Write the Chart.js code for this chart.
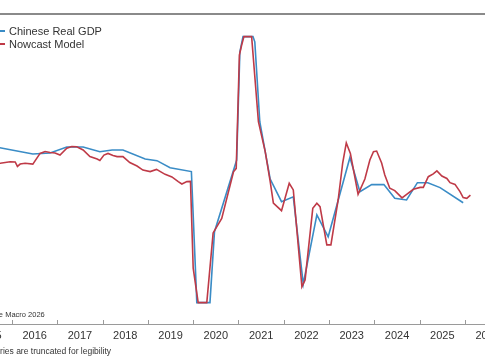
<!DOCTYPE html>
<html>
<head>
<meta charset="utf-8">
<script src="https://cdn.jsdelivr.net/npm/chart.js@4/dist/chart.umd.min.js"></script>
<style>
  html, body { margin: 0; padding: 0; background: #fff; }
  #frame { position: relative; width: 485px; height: 360px; overflow: hidden;
           font-family: "Liberation Sans", Arial, sans-serif; color: #333; }
  #chart { position: absolute; left: -40px; top: 0; }
  .key { position: absolute; left: 9px; font-size: 11px; line-height: 12px; white-space: nowrap; }
  .swatch { position: absolute; left: 0; width: 5px; height: 2px; }
  .note { position: absolute; white-space: nowrap; line-height: 10px; }
</style>
</head>
<body>
<div id="frame">
  <canvas id="chart" width="565" height="360"></canvas>
  <div class="swatch" style="top:30px;background:#3a8cc6"></div>
  <div class="key" style="top:25px">Chinese Real GDP</div>
  <div class="swatch" style="top:43px;background:#bf3a47"></div>
  <div class="key" style="top:38px">Nowcast Model</div>
  <div class="note" style="left:-25px;top:310px;font-size:7.5px">© Alpine Macro 2026</div>
  <div class="note" style="left:-33px;top:346px;font-size:8.5px">Note: Series are truncated for legibility</div>
</div>
<script>
// x values are decimal years, y values are % y/y (clamped at the chart's limits)
const gdpDates = [2015.47, 2016.46, 2016.84, 2017.21, 2017.57, 2017.94, 2018.21, 2018.45,
  2018.94, 2019.20, 2019.49, 2019.96, 2020.08, 2020.37, 2020.47, 2020.96, 2021.03, 2021.10,
  2021.32, 2021.36, 2021.47, 2021.70, 2021.95, 2022.21, 2022.43, 2022.73, 2022.98, 2023.46,
  2023.68, 2023.94, 2024.21, 2024.45, 2024.71, 2024.95, 2025.18, 2025.45, 2025.96];
const gdpValues = [6.85, 6.45, 6.50, 6.78, 6.78, 6.56, 6.64, 6.64,
  6.22, 6.14, 5.81, 5.63, -0.50, -0.50, 2.82, 6.17, 11.22, 11.94,
  11.94, 11.70, 7.96, 5.28, 4.22, 4.45, 0.37, 3.60, 2.58, 6.29,
  4.69, 5.02, 5.02, 4.38, 4.30, 5.11, 5.11, 4.88, 4.17];

const nowcastDates = [2015.47, 2015.74, 2015.96, 2016.07, 2016.12, 2016.18, 2016.29, 2016.46,
  2016.62, 2016.73, 2016.84, 2016.95, 2017.06, 2017.21, 2017.32, 2017.43, 2017.57, 2017.72,
  2017.88, 2017.94, 2018.03, 2018.12, 2018.23, 2018.32, 2018.45, 2018.60, 2018.76, 2018.89,
  2019.05, 2019.19, 2019.38, 2019.53, 2019.67, 2019.75, 2019.86, 2019.94, 2020.00, 2020.11,
  2020.30, 2020.44, 2020.63, 2020.89, 2020.95, 2021.02, 2021.07, 2021.12, 2021.29, 2021.44,
  2021.59, 2021.70, 2021.77, 2021.95, 2022.12, 2022.21, 2022.40, 2022.47, 2022.64, 2022.73,
  2022.80, 2022.95, 2023.04, 2023.20, 2023.30, 2023.38, 2023.47, 2023.64, 2023.79, 2023.90,
  2023.98, 2024.05, 2024.16, 2024.23, 2024.34, 2024.45, 2024.61, 2024.72, 2024.86, 2025.01,
  2025.08, 2025.19, 2025.30, 2025.38, 2025.49, 2025.60, 2025.67, 2025.78, 2025.89, 2025.96,
  2026.04, 2026.12];
const nowcastValues = [5.98, 6.02, 6.09, 6.08, 5.87, 5.98, 6.02, 5.98,
  6.48, 6.57, 6.52, 6.50, 6.40, 6.72, 6.80, 6.79, 6.64, 6.33,
  6.22, 6.15, 6.40, 6.48, 6.38, 6.33, 6.33, 6.05, 5.89, 5.70,
  5.63, 5.73, 5.50, 5.38, 5.16, 5.05, 5.16, 5.17, 1.11, -0.50,
  -0.50, 2.76, 3.44, 5.62, 5.78, 11.08, 11.55, 11.94, 11.94, 7.96,
  6.56, 5.16, 4.15, 3.80, 5.08, 4.77, 0.24, 0.56, 3.91, 4.15,
  3.99, 2.20, 2.20, 4.30, 6.02, 6.97, 6.48, 4.57, 5.28, 6.17,
  6.56, 6.59, 6.03, 5.47, 4.85, 4.74, 4.40, 4.58, 4.80, 4.89,
  4.89, 5.39, 5.52, 5.66, 5.42, 5.31, 5.11, 5.03, 4.69, 4.41,
  4.38, 4.53];

const yearLabels = ['2015', '2016', '2017', '2018', '2019', '2020', '2021',
  '2022', '2023', '2024', '2025', '2026'];

const xMin = 2014.852, xMax = 2027.325;

const yearTicks = {
  id: 'yearTicks',
  afterDraw(chart) {
    const { ctx, chartArea, scales: { x } } = chart;
    ctx.save();
    ctx.strokeStyle = '#9a9a9a';
    ctx.lineWidth = 1;
    for (let yr = Math.ceil(x.min); yr <= x.max; yr++) {
      const px = Math.round(x.getPixelForValue(yr)) + 0.5;
      ctx.beginPath();
      ctx.moveTo(px, chartArea.bottom - 4);
      ctx.lineTo(px, chartArea.bottom);
      ctx.stroke();
    }
    ctx.restore();
  }
};

new Chart(document.getElementById('chart'), {
  type: 'line',
  data: {
    datasets: [
      {
        label: 'Nowcast Model',
        data: nowcastDates.map((d, i) => ({ x: d, y: nowcastValues[i] })),
        borderColor: '#bf3a47',
        borderWidth: 1.6,
        pointRadius: 0,
        order: 0
      },
      {
        label: 'Chinese Real GDP',
        data: gdpDates.map((d, i) => ({ x: d, y: gdpValues[i] })),
        borderColor: '#3a8cc6',
        borderWidth: 1.6,
        pointRadius: 0,
        order: 1
      }
    ]
  },
  options: {
    responsive: false,
    animation: false,
    events: [],
    layout: { padding: { top: 14, left: 0, right: 0, bottom: 0 } },
    plugins: { legend: { display: false }, tooltip: { enabled: false } },
    scales: {
      x: {
        type: 'linear',
        position: 'bottom',
        min: xMin,
        max: xMax,
        afterBuildTicks: (scale) => {
          scale.ticks = yearLabels.map((l, i) => ({ value: 2015.5 + i }));
        },
        afterFit: (scale) => { scale.height = 36; },
        grid: { display: false, drawTicks: false },
        border: { display: true, color: '#9a9a9a', width: 1 },
        ticks: {
          autoSkip: false,
          maxRotation: 0,
          padding: 5,
          color: '#333',
          font: { family: '"Liberation Sans", Arial, sans-serif', size: 11 },
          callback: (v, i) => yearLabels[i]
        }
      },
      top: {
        type: 'linear',
        position: 'top',
        min: xMin,
        max: xMax,
        afterFit: (scale) => { scale.height = 0; },
        grid: { display: false, drawTicks: false },
        border: { display: true, color: '#8a8a8a', width: 2 },
        ticks: { display: false }
      },
      y: {
        display: false,
        min: -1.5,
        max: 13
      }
    }
  },
  plugins: [yearTicks]
});
</script>
</body>
</html>
